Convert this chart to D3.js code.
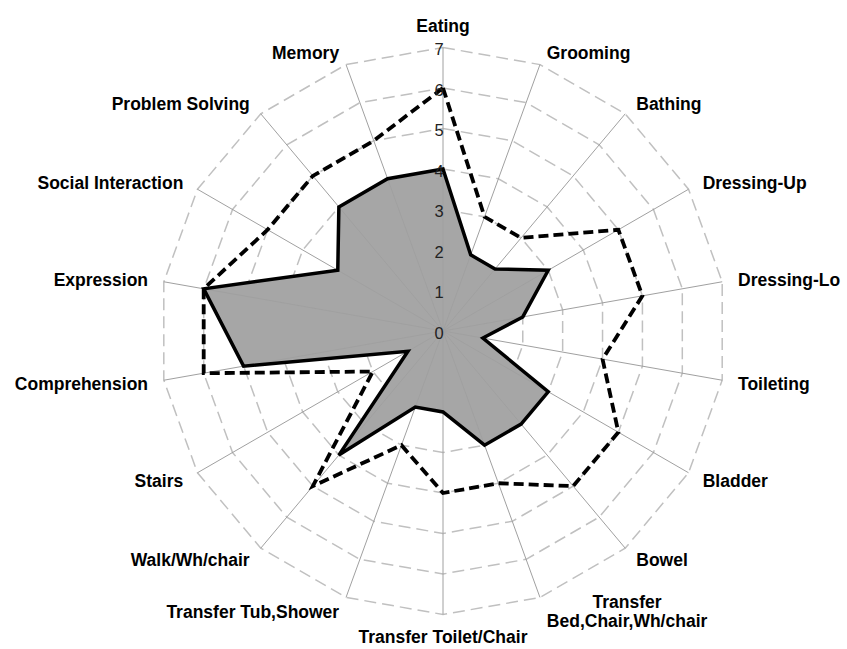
<!DOCTYPE html>
<html>
<head>
<meta charset="utf-8">
<script src="https://cdn.jsdelivr.net/npm/d3@7"></script>
<style>
  body { margin: 0; background: #fff; }
  svg { display: block; }
</style>
</head>
<body>
<div id="chart"></div>
<script>
const categories = [
    "Eating", "Grooming", "Bathing", "Dressing-Up", "Dressing-Lo", "Toileting",
    "Bladder", "Bowel", "Transfer\nBed,Chair,Wh/chair", "Transfer Toilet/Chair",
    "Transfer Tub,Shower", "Walk/Wh/chair", "Stairs", "Comprehension",
    "Expression", "Social Interaction", "Problem Solving", "Memory"
];
// filled series (solid outline)
const solidValues = [4, 2, 2, 3, 2, 1, 3, 3, 3, 2, 2, 4, 1, 5, 6, 3, 4, 4];
// dashed series
const dashedValues = [6, 3, 3, 5, 5, 4, 5, 5, 4, 4, 3, 5, 2, 6, 6, 5, 5, 5];
const ticks = [0, 1, 2, 3, 4, 5, 6, 7];

const width = 847;
const height = 649;
const cx = 443, cy = 331;

const svg = d3.select("#chart")
    .append("svg")
    .attr("width", width)
    .attr("height", height);

const g = svg.append("g")
    .attr("transform", `translate(${cx},${cy})`);

const angle = d3.scaleLinear()
    .domain([0, categories.length])
    .range([0, 2 * Math.PI]);

const r = d3.scaleLinear()
    .domain([0, 7])
    .range([0, 283.5]);

const px = (i, v) => r(v) * Math.sin(angle(i));
const py = (i, v) => -r(v) * Math.cos(angle(i));

const ring = d3.lineRadial()
    .angle((d, i) => angle(i))
    .radius(d => r(d))
    .curve(d3.curveLinearClosed);

// grid rings
g.selectAll(".ring")
    .data(ticks.slice(1))
    .join("path")
    .attr("d", t => ring(categories.map(() => t)))
    .attr("fill", "none")
    .attr("stroke", "#c0c0c0")
    .attr("stroke-width", 1.5)
    .attr("stroke-dasharray", "12,6");

// filled series
g.append("path")
    .attr("d", ring(solidValues))
    .attr("fill", "#a6a6a6")
    .attr("stroke", "none");

// spokes
g.selectAll(".spoke")
    .data(categories)
    .join("line")
    .attr("x1", 0)
    .attr("y1", 0)
    .attr("x2", (d, i) => px(i, 7))
    .attr("y2", (d, i) => py(i, 7))
    .attr("stroke", "#a0a0a0")
    .attr("stroke-width", 1);

// series outlines
g.append("path")
    .attr("d", ring(solidValues))
    .attr("fill", "none")
    .attr("stroke", "#000")
    .attr("stroke-width", 3.5)
    .attr("stroke-linejoin", "miter");

g.append("path")
    .attr("d", ring(dashedValues))
    .attr("fill", "none")
    .attr("stroke", "#000")
    .attr("stroke-width", 3.8)
    .attr("stroke-dasharray", "10,5");

// tick labels
g.selectAll(".tick")
    .data(ticks)
    .join("text")
    .attr("x", -4)
    .attr("y", t => -r(t) + 2)
    .attr("dy", "0.35em")
    .attr("text-anchor", "middle")
    .attr("font-family", "Liberation Sans, Arial, sans-serif")
    .attr("font-size", "16.5px")
    .attr("fill", "#222")
    .text(t => t);

// category labels
const labelR = r(7) + 14;
const labels = g.selectAll(".label")
    .data(categories)
    .join("text")
    .attr("text-anchor", "middle")
    .attr("font-family", "Liberation Sans, Arial, sans-serif")
    .attr("font-weight", "bold")
    .attr("font-size", "17.5px")
    .attr("fill", "#000");

labels.each(function(d, i) {
    const t = d3.select(this);
    const lines = d.split("\n");
    lines.forEach((ln, k) => {
        t.append("tspan")
            .attr("x", 0)
            .attr("dy", k === 0 ? `${0.35 - (lines.length - 1) * 0.55}em` : "1.1em")
            .text(ln);
    });
    const a = angle(i);
    const s = Math.sin(a), c = Math.cos(a);
    const w = this.getBBox().width;
    let x = labelR * s;
    let y = -labelR * c;
    if (Math.abs(s) < 0.1) {
        y -= c * 8;
    } else if (s > 0) {
        x += 2 + w / 2;
        y += 1;
    } else {
        x -= 2 + w / 2;
        y += 1;
    }
    t.attr("transform", `translate(${x},${y})`);
});
</script>
</body>
</html>
